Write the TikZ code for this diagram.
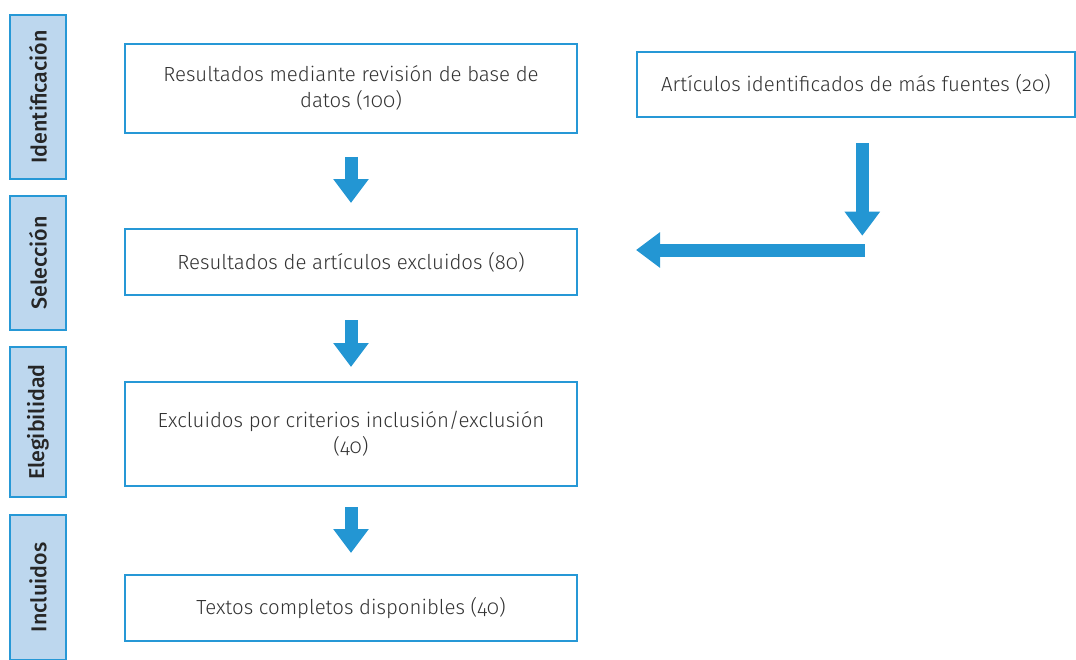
\documentclass[tikz,border=0pt]{standalone}
\usepackage{fontspec}
\setmainfont{Fira Sans}[UprightFont=* Light, BoldFont=* Medium, Numbers=OldStyle]
\usetikzlibrary{arrows.meta}
\definecolor{lineblue}{RGB}{38,152,214}
\definecolor{arrowblue}{RGB}{35,150,211}
\definecolor{sidefill}{RGB}{189,215,238}
\definecolor{txtgray}{RGB}{50,50,50}

\begin{document}
\begin{tikzpicture}[x=1pt, y=-1pt,
                    B/.style = {draw=lineblue, line width=2, fill=white,
                              minimum width=452, inner sep=0,
                              text=txtgray, align=center,
                              font=\fontsize{20.4}{26}\selectfont},
                    S/.style = {draw=lineblue, line width=2, fill=sidefill,
                              rotate=90, minimum height=56, inner sep=0,
                              text=black!85,
                              font=\fontsize{21.5}{24}\selectfont\bfseries},
                    AR/.style = {arrowblue, line width=13,
                              -{Triangle[length=24, width=34]}}
               ]
               \useasboundingbox (0,0) rectangle (1076,659);
               % phases on the left
               \node[S, minimum width=164] (s1) at (38,96.8)  {Identificación};
               \node[S, minimum width=134] (s2) at (38,263)   {Selección};
               \node[S, minimum width=150] (s3) at (38,422)   {Elegibilidad};
               \node[S, minimum width=145] (s4) at (38,587.5) {Incluidos};
               % boxes
               \node[B, minimum height=89]  (b1) at (351,88.3)
                    {Resultados mediante revisión de base de\\datos (100)};
               \node[B, minimum width=438, minimum height=65] (b2) at (856,84.7)
                    {Artículos identificados de más fuentes (20)};
               \node[B, minimum height=66]  (b3) at (351,262)
                    {Resultados de artículos excluidos (80)};
               \node[B, minimum height=104] (b4) at (351,434)
                    {Excluidos por criterios inclusión/exclusión\\(40)};
               \node[B, minimum height=66]  (b5) at (351,608)
                    {Textos completos disponibles (40)};
               % arrows
               \draw[AR] ([yshift=-23]b1.south) -- ([yshift=25]b3.north);
               \draw[AR] ([yshift=-24]b3.south) -- ([yshift=14]b4.north);
               \draw[AR] ([yshift=-20]b4.south) -- ([yshift=21]b5.north);

               \coordinate (drop) at (862.3,235.7);
               \coordinate (turn) at (864.7,250);
               \coordinate (stop) at (636,250);
               \draw[AR] ([xshift=6.3,yshift=-25]b2.south) -- (drop);
               \draw[AR] (turn) -- (stop);
          \end{tikzpicture}
\end{document}
